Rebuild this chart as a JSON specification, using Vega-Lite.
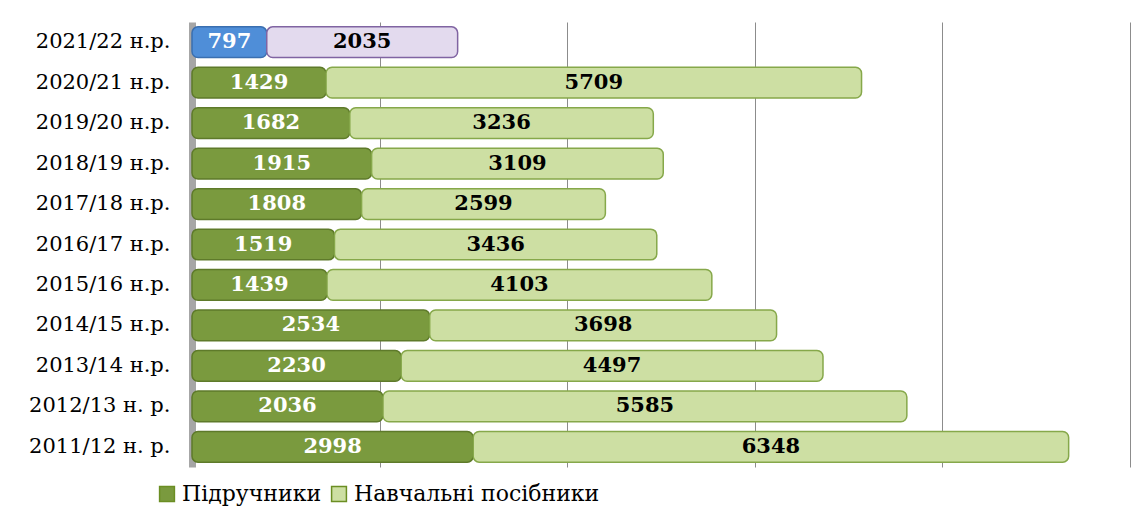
{
  "$schema": "https://vega.github.io/schema/vega-lite/v6.json",
  "width": 938,
  "height": 445,
  "autosize": "none",
  "padding": {"left": 192, "top": 22, "right": 5, "bottom": 44},
  "background": "white",
  "config": {"view": {"stroke": null}, "font": "DejaVu Serif", "legend": {"labelFont": "DejaVu Serif"}},
  "data": {
    "values": [
      {"year": "2021/22 н.р.", "type": "Підручники", "key": "Підручники 2021", "ord": 1, "value": 797},
      {"year": "2021/22 н.р.", "type": "Навчальні посібники", "key": "Посібники 2021", "ord": 2, "value": 2035},
      {"year": "2020/21 н.р.", "type": "Підручники", "key": "Підручники", "ord": 1, "value": 1429},
      {"year": "2020/21 н.р.", "type": "Навчальні посібники", "key": "Навчальні посібники", "ord": 2, "value": 5709},
      {"year": "2019/20 н.р.", "type": "Підручники", "key": "Підручники", "ord": 1, "value": 1682},
      {"year": "2019/20 н.р.", "type": "Навчальні посібники", "key": "Навчальні посібники", "ord": 2, "value": 3236},
      {"year": "2018/19 н.р.", "type": "Підручники", "key": "Підручники", "ord": 1, "value": 1915},
      {"year": "2018/19 н.р.", "type": "Навчальні посібники", "key": "Навчальні посібники", "ord": 2, "value": 3109},
      {"year": "2017/18 н.р.", "type": "Підручники", "key": "Підручники", "ord": 1, "value": 1808},
      {"year": "2017/18 н.р.", "type": "Навчальні посібники", "key": "Навчальні посібники", "ord": 2, "value": 2599},
      {"year": "2016/17 н.р.", "type": "Підручники", "key": "Підручники", "ord": 1, "value": 1519},
      {"year": "2016/17 н.р.", "type": "Навчальні посібники", "key": "Навчальні посібники", "ord": 2, "value": 3436},
      {"year": "2015/16 н.р.", "type": "Підручники", "key": "Підручники", "ord": 1, "value": 1439},
      {"year": "2015/16 н.р.", "type": "Навчальні посібники", "key": "Навчальні посібники", "ord": 2, "value": 4103},
      {"year": "2014/15 н.р.", "type": "Підручники", "key": "Підручники", "ord": 1, "value": 2534},
      {"year": "2014/15 н.р.", "type": "Навчальні посібники", "key": "Навчальні посібники", "ord": 2, "value": 3698},
      {"year": "2013/14 н.р.", "type": "Підручники", "key": "Підручники", "ord": 1, "value": 2230},
      {"year": "2013/14 н.р.", "type": "Навчальні посібники", "key": "Навчальні посібники", "ord": 2, "value": 4497},
      {"year": "2012/13 н. р.", "type": "Підручники", "key": "Підручники", "ord": 1, "value": 2036},
      {"year": "2012/13 н. р.", "type": "Навчальні посібники", "key": "Навчальні посібники", "ord": 2, "value": 5585},
      {"year": "2011/12 н. р.", "type": "Підручники", "key": "Підручники", "ord": 1, "value": 2998},
      {"year": "2011/12 н. р.", "type": "Навчальні посібники", "key": "Навчальні посібники", "ord": 2, "value": 6348}
    ]
  },
  "transform": [
    {"stack": "value", "groupby": ["year"], "sort": [{"field": "ord", "order": "ascending"}], "as": ["v0", "v1"]},
    {"calculate": "(datum.v0 + datum.v1) / 2", "as": "mid"}
  ],
  "encoding": {
    "y": {
      "field": "year",
      "type": "nominal",
      "sort": null,
      "scale": {"paddingInner": 0.24, "paddingOuter": 0.12},
      "axis": {
        "title": null,
        "ticks": false,
        "domain": true,
        "domainColor": "#A6A6A6",
        "domainWidth": 7,
        "labelFont": "DejaVu Serif",
        "labelFontSize": 21,
        "labelColor": "#000000",
        "labelPadding": 22,
        "labelLimit": 400
      }
    }
  },
  "layer": [
    {
      "mark": {"type": "bar", "cornerRadius": 6, "strokeWidth": 1.5},
      "encoding": {
        "x": {
          "field": "v0",
          "type": "quantitative",
          "scale": {"domain": [0, 10000]},
          "axis": {
            "title": null,
            "labels": false,
            "ticks": false,
            "domain": false,
            "grid": true,
            "gridColor": "#8C8C8C",
            "gridWidth": 1,
            "values": [2000, 4000, 6000, 8000, 10000]
          }
        },
        "x2": {"field": "v1"},
        "color": {
          "field": "key",
          "type": "nominal",
          "scale": {
            "domain": ["Підручники", "Навчальні посібники", "Підручники 2021", "Посібники 2021"],
            "range": ["#7A9A3E", "#CDDFA3", "#4F8ED8", "#E3DAEE"]
          },
          "legend": {
            "values": ["Підручники", "Навчальні посібники"],
            "orient": "none",
            "legendX": -36,
            "legendY": 461,
            "direction": "horizontal",
            "title": null,
            "symbolType": "square",
            "symbolSize": 220,
            "symbolStrokeWidth": 1.5,
            "symbolStrokeColor": "#6B8E23",
            "labelFont": "DejaVu Serif",
            "labelFontSize": 22,
            "labelLimit": 500,
            "labelColor": "#000000",
            "columnPadding": 6,
            "labelOffset": 4
          }
        },
        "stroke": {
          "field": "key",
          "type": "nominal",
          "scale": {
            "domain": ["Підручники", "Навчальні посібники", "Підручники 2021", "Посібники 2021"],
            "range": ["#5E7A2A", "#86A84A", "#3A6FB0", "#8064A2"]
          },
          "legend": null
        },
        "order": {"field": "ord"}
      }
    },
    {
      "mark": {"type": "text", "font": "DejaVu Serif", "fontWeight": "bold", "fontSize": 21, "baseline": "middle", "align": "center"},
      "encoding": {
        "x": {"field": "mid", "type": "quantitative"},
        "text": {"field": "value", "type": "quantitative", "format": "d"},
        "color": {
          "condition": {"test": "datum.ord == 1", "value": "#FFFFFF"},
          "value": "#000000"
        }
      }
    }
  ],
  "resolve": {"scale": {"color": "independent"}}
}
